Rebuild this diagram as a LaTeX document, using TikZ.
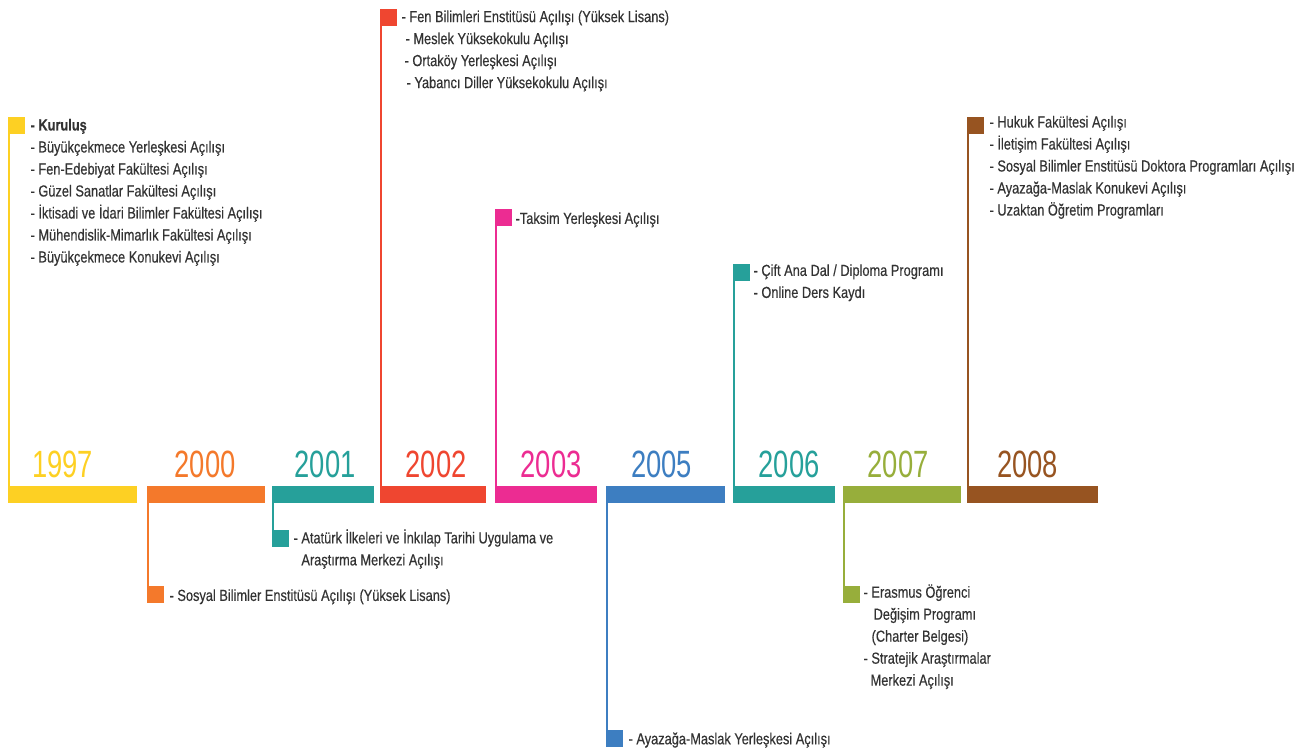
\documentclass[tikz,border=0pt]{standalone}
\usepackage{fontspec}
\setmainfont{Liberation Sans}[FakeStretch=0.80,FakeBold=0.4]
\newfontfamily\yearfont{Liberation Sans}[FakeStretch=0.72]
\usetikzlibrary{positioning}

\definecolor{c1997}{HTML}{FDD023}
\definecolor{c2000}{HTML}{F4792B}
\definecolor{c2001}{HTML}{26A09A}
\definecolor{c2002}{HTML}{EF4630}
\definecolor{c2003}{HTML}{EC2C92}
\definecolor{c2005}{HTML}{3D7EC1}
\definecolor{c2006}{HTML}{26A09A}
\definecolor{c2007}{HTML}{97AE3B}
\definecolor{c2008}{HTML}{975421}
\definecolor{txt}{HTML}{333333}

\begin{document}
\begin{tikzpicture}[x=1pt,y=-1pt,
    bar/.style={rectangle,inner sep=0pt,minimum height=17pt,anchor=north west},
    flag/.style={rectangle,inner sep=0pt,minimum size=17pt,anchor=north west},
    year/.style={inner sep=0pt,anchor=base,font=\yearfont\fontsize{38}{38}\selectfont},
    entry/.style={inner sep=0pt,anchor=north west,align=left,text=txt,
        font=\fontsize{16}{22}\selectfont,execute at begin node=\strut},
    stem/.style={line width=2pt}]
\useasboundingbox (0,0) rectangle (1307,752);

% year bars
\foreach \yr/\xa/\w/\dx in {1997/8/129/-10,2000/147/118/-1,2001/272/102/2,2002/380/106/3,
    2003/495/102/5,2005/606/119/-4,2006/733/102/5,2007/843/118/-4,2008/967/131/-5}{
  \node[bar,fill=c\yr,minimum width=\w] (bar\yr) at (\xa,486) {};
  \node[year,text=c\yr] (lbl\yr) at ([xshift=\dx pt,yshift=9pt]bar\yr.north) {\yr};
}

% flags
\node[flag,fill=c1997] (fl1997) at (8,117) {};
\node[flag,fill=c2000] (fl2000) at (147,586) {};
\node[flag,fill=c2001] (fl2001) at (272,530) {};
\node[flag,fill=c2002] (fl2002) at (380,9) {};
\node[flag,fill=c2003] (fl2003) at (495,209) {};
\node[flag,fill=c2005] (fl2005) at (606,730) {};
\node[flag,fill=c2006] (fl2006) at (733,264) {};
\node[flag,fill=c2007] (fl2007) at (843,586) {};
\node[flag,fill=c2008] (fl2008) at (967,117) {};

% stems, up
\foreach \yr in {1997,2002,2003,2006,2008}
  \draw[stem,c\yr] ([xshift=1pt]fl\yr.north west) -- ([xshift=1pt]bar\yr.north west);
% stems, down
\foreach \yr in {2000,2001,2005,2007}
  \draw[stem,c\yr] ([xshift=1pt]bar\yr.south west) -- ([xshift=1pt]fl\yr.south west);

% texts
\node[entry] (tx1997) at ([xshift=5pt,yshift=7pt]fl1997.east)
  {\textbf{- Kuruluş}\\- Büyükçekmece Yerleşkesi Açılışı\\- Fen-Edebiyat Fakültesi Açılışı\\
   - Güzel Sanatlar Fakültesi Açılışı\\- İktisadi ve İdari Bilimler Fakültesi Açılışı\\
   - Mühendislik-Mimarlık Fakültesi Açılışı\\- Büyükçekmece Konukevi Açılışı};
\node[entry] (tx2000) at ([xshift=5pt,yshift=9.4pt]fl2000.east)
  {- Sosyal Bilimler Enstitüsü Açılışı (Yüksek Lisans)};
\node[entry] (tx2001) at ([xshift=4pt,yshift=9.4pt]fl2001.east)
  {- Atatürk İlkeleri ve İnkılap Tarihi Uygulama ve\\\phantom{- }Araştırma Merkezi Açılışı};
\node[entry] (tx2002) at ([xshift=4pt,yshift=7.4pt]fl2002.east)
  {- Fen Bilimleri Enstitüsü Açılışı (Yüksek Lisans)\\\hspace*{4pt}- Meslek Yüksekokulu Açılışı\\
   \hspace*{3pt}- Ortaköy Yerleşkesi Açılışı\\\hspace*{5pt}- Yabancı Diller Yüksekokulu Açılışı};
\node[entry] (tx2003) at ([xshift=3pt,yshift=9.4pt]fl2003.east)
  {-Taksim Yerleşkesi Açılışı};
\node[entry] (tx2005) at ([xshift=5pt,yshift=10pt]fl2005.east)
  {- Ayazağa-Maslak Yerleşkesi Açılışı};
\node[entry] (tx2006) at ([xshift=3pt,yshift=8.6pt]fl2006.east)
  {- Çift Ana Dal / Diploma Programı\\- Online Ders Kaydı};
\node[entry] (tx2007) at ([xshift=3pt,yshift=10.6pt]fl2007.east)
  {- Erasmus Öğrenci\\\hspace*{10pt}Değişim Programı\\\hspace*{8pt}(Charter Belgesi)\\
   - Stratejik Araştırmalar\\\hspace*{7pt}Merkezi Açılışı};
\node[entry] (tx2008) at ([xshift=5pt,yshift=10pt]fl2008.east)
  {- Hukuk Fakültesi Açılışı\\- İletişim Fakültesi Açılışı\\
   - Sosyal Bilimler Enstitüsü Doktora Programları Açılışı\\
   - Ayazağa-Maslak Konukevi Açılışı\\- Uzaktan Öğretim Programları};
\end{tikzpicture}
\end{document}
